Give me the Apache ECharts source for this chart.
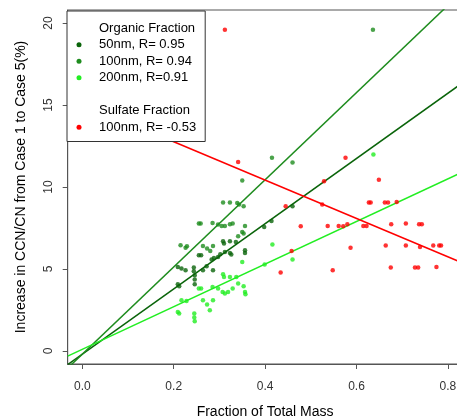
<!DOCTYPE html>
<html>
<head>
<meta charset="utf-8">
<script src="https://cdn.jsdelivr.net/npm/echarts@6/dist/echarts.min.js"></script>
<style>
    html, body { margin: 0; padding: 0; background: #fff; }
    #chart { width: 457px; height: 419px; }
</style>
</head>
<body>
<div id="chart"></div>
<script>
// points: [fraction of total mass, increase %]
var organic50 = [
    [0.209, 5.12], [0.217, 5.02], [0.226, 4.92], [0.244, 5.09], [0.244, 4.86], [0.246, 4.62],
    [0.246, 4.35], [0.246, 4.07], [0.264, 4.92], [0.272, 5.16], [0.286, 4.92], [0.209, 4.07],
    [0.212, 3.95], [0.255, 5.84], [0.260, 5.84], [0.283, 5.57], [0.288, 5.67], [0.297, 5.73],
    [0.302, 5.90], [0.312, 6.04], [0.323, 5.98], [0.326, 5.88], [0.308, 6.69], [0.323, 6.69],
    [0.310, 6.55], [0.336, 6.65], [0.356, 6.14], [0.356, 5.98], [0.398, 7.56], [0.414, 7.93],
    [0.460, 8.82]
];
var organic100 = [
    [0.215, 6.45], [0.229, 6.38], [0.226, 6.30], [0.255, 7.77], [0.259, 7.77], [0.285, 7.80],
    [0.297, 7.71], [0.305, 7.62], [0.312, 7.62], [0.323, 7.73], [0.329, 7.77], [0.356, 7.62],
    [0.308, 9.05], [0.323, 9.05], [0.339, 9.02], [0.343, 8.93], [0.353, 8.82], [0.350, 10.4],
    [0.415, 11.79], [0.460, 11.49], [0.636, 19.6], [0.264, 6.40], [0.286, 6.40], [0.273, 6.24],
    [0.280, 6.10], [0.350, 7.26], [0.353, 7.16], [0.341, 6.99]
];
var organic200 = [
    [0.350, 5.43], [0.308, 4.68], [0.310, 4.51], [0.323, 4.51], [0.337, 4.51], [0.255, 3.80],
    [0.260, 3.80], [0.285, 3.90], [0.297, 3.80], [0.307, 3.60], [0.312, 3.50], [0.319, 3.60],
    [0.329, 3.80], [0.341, 4.11], [0.353, 3.95], [0.356, 3.60], [0.357, 3.46], [0.217, 3.09],
    [0.228, 3.05], [0.264, 3.09], [0.273, 2.83], [0.286, 3.09], [0.279, 2.48], [0.209, 2.38],
    [0.212, 2.28], [0.245, 2.28], [0.245, 2.04], [0.246, 1.81], [0.416, 6.49], [0.460, 5.57],
    [0.399, 5.27], [0.637, 11.99]
];
var sulfate100 = [
    [0.312, 19.6], [0.341, 11.52], [0.445, 8.82], [0.458, 6.10], [0.434, 4.78], [0.478, 7.60],
    [0.576, 11.79], [0.529, 10.35], [0.649, 10.45], [0.525, 8.93], [0.627, 9.05], [0.631, 9.05],
    [0.662, 9.05], [0.669, 9.05], [0.688, 9.09], [0.537, 7.62], [0.561, 7.62], [0.571, 7.60],
    [0.580, 7.73], [0.615, 7.62], [0.622, 7.62], [0.676, 7.73], [0.708, 7.77], [0.737, 7.73],
    [0.743, 7.73], [0.587, 6.30], [0.664, 6.43], [0.708, 6.43], [0.739, 6.34], [0.768, 6.43],
    [0.781, 6.43], [0.785, 6.43], [0.548, 4.92], [0.675, 5.09], [0.728, 5.09], [0.735, 5.09],
    [0.775, 5.12]
];

// fitted lines, [intercept, slope]
var fit50 = [-0.2, 19.9];
var fit100 = [-0.2, 26.6];
var fit200 = [0.1, 13.0];
var fitSulfate = [15.1, -11.7];

var xTicks = [0, 0.2, 0.4, 0.6, 0.8];
var yTicks = [0, 5, 10, 15, 20];
var xRange = [-0.032, 0.832];
var yRange = [-0.8, 20.8];

var names = ['50nm, R= 0.95', '100nm, R= 0.94', '200nm, R=0.91', '100nm, R= -0.53'];
var colors = ['#0a640a', '#1e8c1e', '#22ee22', '#ff0000'];

function fitLine(fit) {
    return xRange.map(function (x) {
        return [x, fit[0] + fit[1] * x];
    });
}

var font = 'Liberation Sans, Arial, sans-serif';
var chart = echarts.init(document.getElementById('chart'));

var pointSets = [organic50, organic100, organic200, sulfate100];
var fits = [fit50, fit100, fit200, fitSulfate];
var series = [
    { name: 'Organic Fraction', type: 'scatter', data: [] },
    { name: ' ', type: 'scatter', data: [] },
    { name: 'Sulfate Fraction', type: 'scatter', data: [] }
];
for (var i = 0; i < 4; i++) {
    series.push({
        name: names[i],
        type: 'line',
        data: fitLine(fits[i]),
        showSymbol: false,
        clip: true,
        silent: true,
        lineStyle: { color: colors[i], width: 1.5 },
        itemStyle: { color: colors[i] },
        z: 1
    });
    series.push({
        name: names[i],
        type: 'scatter',
        data: pointSets[i],
        symbol: 'circle',
        symbolSize: 4.5,
        itemStyle: { color: colors[i] },
        z: 3
    });
}

chart.setOption({
    animation: false,
    grid: {
        left: 67.7,
        top: 10,
        right: -5.5,
        bottom: 55,
        outerBoundsMode: 'none',
        containLabel: false,
        show: true,
        borderColor: '#555',
        borderWidth: 1
    },
    legend: {
        orient: 'vertical',
        left: 67,
        top: 11,
        selectedMode: false,
        backgroundColor: '#fff',
        borderColor: '#333',
        borderWidth: 1,
        borderRadius: 0,
        padding: [9, 9, 6, 7],
        itemGap: 0,
        itemWidth: 10,
        itemHeight: 5,
        icon: 'circle',
        textStyle: {
            fontFamily: font,
            fontSize: 13,
            color: '#000',
            lineHeight: 16.5,
            padding: [0, 0, 0, 10]
        },
        data: [
            { name: 'Organic Fraction', icon: 'none' },
            names[0], names[1], names[2],
            { name: ' ', icon: 'none' },
            { name: 'Sulfate Fraction', icon: 'none' },
            names[3]
        ]
    },
    xAxis: {
        type: 'value',
        min: xRange[0],
        max: xRange[1],
        name: 'Fraction of Total Mass',
        nameLocation: 'middle',
        nameGap: 41,
        nameTextStyle: { fontFamily: font, fontSize: 14, color: '#000' },
        splitLine: { show: false },
        axisLine: { show: true, onZero: false, lineStyle: { color: '#555' } },
        axisTick: { show: true, length: 5, customValues: xTicks, lineStyle: { color: '#555' } },
        axisLabel: {
            customValues: xTicks,
            margin: 17,
            fontFamily: font,
            fontSize: 12,
            color: '#333',
            formatter: function (v) { return v.toFixed(1); }
        }
    },
    yAxis: {
        type: 'value',
        min: yRange[0],
        max: yRange[1],
        name: 'Increase in CCN/CN from Case 1 to Case 5(%)',
        nameLocation: 'middle',
        nameGap: 40,
        nameTextStyle: { fontFamily: font, fontSize: 14, color: '#000' },
        splitLine: { show: false },
        axisLine: { show: true, onZero: false, lineStyle: { color: '#555' } },
        axisTick: { show: true, length: 5, customValues: yTicks, lineStyle: { color: '#555' } },
        axisLabel: {
            customValues: yTicks,
            rotate: 90,
            margin: 13,
            fontFamily: font,
            fontSize: 12,
            color: '#333'
        }
    },
    series: series
});
</script>
</body>
</html>
